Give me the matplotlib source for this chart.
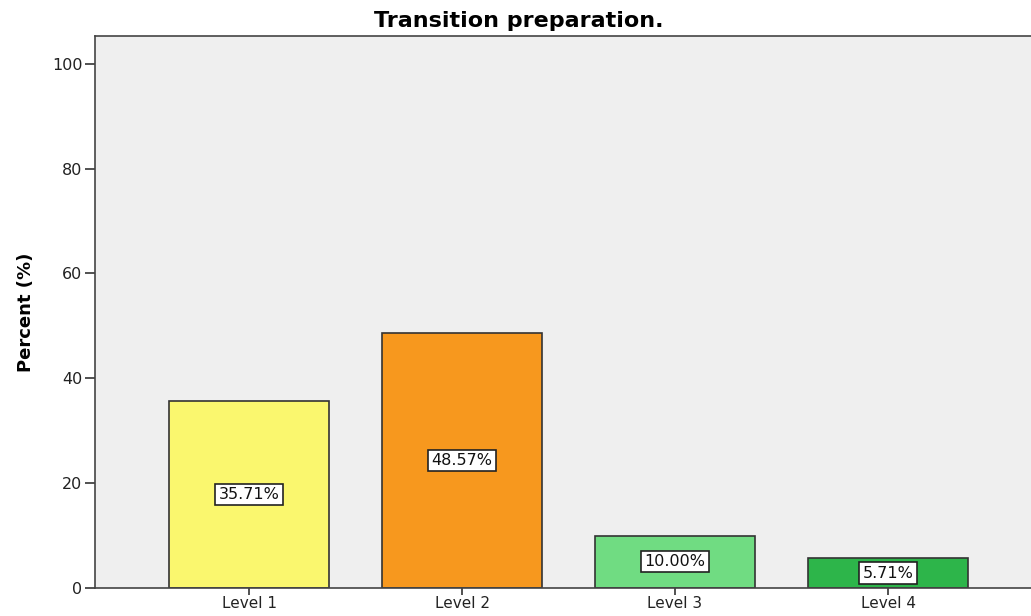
import matplotlib
matplotlib.use("Agg")
import matplotlib.pyplot as plt

plt.rcParams['font.family'] = ['DejaVu Sans']

categories = ["Level 1", "Level 2", "Level 3", "Level 4"]
percents = [35.71, 48.57, 10.00, 5.71]
bar_colors = ["#FAF76E", "#F7981E", "#70DC82", "#2DB54A"]
y_ticks = [0, 20, 40, 60, 80, 100]

W, H = 1031, 616
fig = plt.figure(figsize=(W / 100, H / 100), dpi=100)
ax = fig.add_axes([95 / W, (H - 588) / H, (W - 95) / W, (588 - 36) / H])
ax.set_facecolor("#EFEFEF")

x = list(range(len(categories)))
ax.bar(x, percents, width=0.75, color=bar_colors, edgecolor="#333333", linewidth=1.2, zorder=2)

for xi, v in zip(x, percents):
    ax.text(xi, v / 2, f"{v:.2f}%", ha="center", va="center", fontsize=11.5, color="#111111",
            bbox=dict(boxstyle="square,pad=0.2", facecolor="white", edgecolor="#222222", linewidth=1.2),
            zorder=3)

ax.set_xlim(-0.723, 3.671)
ax.set_ylim(0, 105.3)
ax.set_xticks(x)
ax.set_xticklabels(categories, fontsize=11, color="#222222")
ax.set_yticks(y_ticks)
ax.set_yticklabels([str(t) for t in y_ticks], fontsize=11.5, color="#222222")
ax.tick_params(axis="y", direction="out", length=7, width=1.2, color="#333333", pad=2)
ax.tick_params(axis="x", direction="out", length=5, width=1.2, color="#333333", pad=1)

for side in ["left", "bottom", "top"]:
    ax.spines[side].set_color("#444444")
    ax.spines[side].set_linewidth(1.2)
ax.spines["right"].set_visible(False)

ax.set_ylabel("Percent (%)", fontsize=13, fontweight="bold", labelpad=12)
fig.text(519 / W, 1 - 21 / H, "Transition preparation.", ha="center", va="center",
         fontsize=16, fontweight="bold")

fig.savefig("out.png", dpi=100)
